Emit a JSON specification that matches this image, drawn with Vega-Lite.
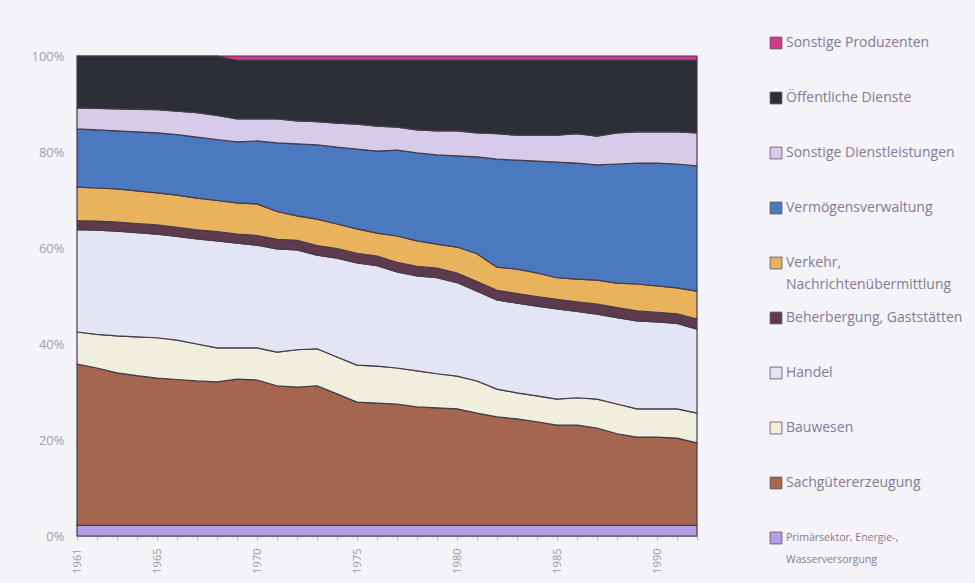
{
  "$schema": "https://vega.github.io/schema/vega-lite/v6.json",
  "width": 620,
  "height": 480,
  "autosize": "none",
  "padding": {"left": 77, "top": 56, "right": 278, "bottom": 47},
  "background": "#f4f3f8",
  "config": {
    "view": {"stroke": null},
    "font": "Open Sans"
  },
  "datasets": {
    "sectors": [
      {"k": "SP", "sector": "Sonstige Produzenten", "rank": 10},
      {"k": "O", "sector": "Öffentliche Dienste", "rank": 9},
      {"k": "D", "sector": "Sonstige Dienstleistungen", "rank": 8},
      {"k": "M", "sector": "Vermögensverwaltung", "rank": 7},
      {"k": "V", "sector": "Verkehr, Nachrichtenübermittlung", "rank": 6},
      {"k": "G", "sector": "Beherbergung, Gaststätten", "rank": 5},
      {"k": "H", "sector": "Handel", "rank": 4},
      {"k": "B", "sector": "Bauwesen", "rank": 3},
      {"k": "S", "sector": "Sachgütererzeugung", "rank": 2},
      {"k": "P", "sector": "Primärsektor, Energie-, Wasserversorgung", "rank": 1}
    ],
    "shares": [
      {"year":1961,"k":"P","share":2.2},{"year":1961,"k":"S","share":33.6},{"year":1961,"k":"B","share":6.7},{"year":1961,"k":"H","share":21.3},{"year":1961,"k":"G","share":1.9},{"year":1961,"k":"V","share":7.0},{"year":1961,"k":"M","share":12.1},{"year":1961,"k":"D","share":4.4},{"year":1961,"k":"O","share":10.8},{"year":1961,"k":"SP","share":0},
      {"year":1962,"k":"P","share":2.2},{"year":1962,"k":"S","share":32.8},{"year":1962,"k":"B","share":7.0},{"year":1962,"k":"H","share":21.7},{"year":1962,"k":"G","share":1.9},{"year":1962,"k":"V","share":6.9},{"year":1962,"k":"M","share":12.1},{"year":1962,"k":"D","share":4.5},{"year":1962,"k":"O","share":10.9},{"year":1962,"k":"SP","share":0},
      {"year":1963,"k":"P","share":2.2},{"year":1963,"k":"S","share":31.8},{"year":1963,"k":"B","share":7.7},{"year":1963,"k":"H","share":21.8},{"year":1963,"k":"G","share":1.9},{"year":1963,"k":"V","share":6.9},{"year":1963,"k":"M","share":12.1},{"year":1963,"k":"D","share":4.6},{"year":1963,"k":"O","share":11.0},{"year":1963,"k":"SP","share":0},
      {"year":1964,"k":"P","share":2.2},{"year":1964,"k":"S","share":31.2},{"year":1964,"k":"B","share":8.1},{"year":1964,"k":"H","share":21.7},{"year":1964,"k":"G","share":1.9},{"year":1964,"k":"V","share":6.8},{"year":1964,"k":"M","share":12.3},{"year":1964,"k":"D","share":4.7},{"year":1964,"k":"O","share":11.1},{"year":1964,"k":"SP","share":0},
      {"year":1965,"k":"P","share":2.2},{"year":1965,"k":"S","share":30.7},{"year":1965,"k":"B","share":8.4},{"year":1965,"k":"H","share":21.6},{"year":1965,"k":"G","share":1.9},{"year":1965,"k":"V","share":6.7},{"year":1965,"k":"M","share":12.5},{"year":1965,"k":"D","share":4.8},{"year":1965,"k":"O","share":11.2},{"year":1965,"k":"SP","share":0},
      {"year":1966,"k":"P","share":2.2},{"year":1966,"k":"S","share":30.4},{"year":1966,"k":"B","share":8.2},{"year":1966,"k":"H","share":21.6},{"year":1966,"k":"G","share":1.9},{"year":1966,"k":"V","share":6.7},{"year":1966,"k":"M","share":12.6},{"year":1966,"k":"D","share":4.9},{"year":1966,"k":"O","share":11.5},{"year":1966,"k":"SP","share":0},
      {"year":1967,"k":"P","share":2.2},{"year":1967,"k":"S","share":30.1},{"year":1967,"k":"B","share":7.7},{"year":1967,"k":"H","share":21.9},{"year":1967,"k":"G","share":1.9},{"year":1967,"k":"V","share":6.6},{"year":1967,"k":"M","share":12.7},{"year":1967,"k":"D","share":5.1},{"year":1967,"k":"O","share":11.8},{"year":1967,"k":"SP","share":0},
      {"year":1968,"k":"P","share":2.2},{"year":1968,"k":"S","share":29.9},{"year":1968,"k":"B","share":7.1},{"year":1968,"k":"H","share":22.3},{"year":1968,"k":"G","share":1.9},{"year":1968,"k":"V","share":6.5},{"year":1968,"k":"M","share":12.7},{"year":1968,"k":"D","share":5.0},{"year":1968,"k":"O","share":12.4},{"year":1968,"k":"SP","share":0},
      {"year":1969,"k":"P","share":2.2},{"year":1969,"k":"S","share":30.5},{"year":1969,"k":"B","share":6.5},{"year":1969,"k":"H","share":21.8},{"year":1969,"k":"G","share":1.9},{"year":1969,"k":"V","share":6.5},{"year":1969,"k":"M","share":12.7},{"year":1969,"k":"D","share":4.8},{"year":1969,"k":"O","share":12.2},{"year":1969,"k":"SP","share":0.9},
      {"year":1970,"k":"P","share":2.2},{"year":1970,"k":"S","share":30.3},{"year":1970,"k":"B","share":6.7},{"year":1970,"k":"H","share":21.4},{"year":1970,"k":"G","share":2.0},{"year":1970,"k":"V","share":6.6},{"year":1970,"k":"M","share":13.1},{"year":1970,"k":"D","share":4.6},{"year":1970,"k":"O","share":12.2},{"year":1970,"k":"SP","share":0.9},
      {"year":1971,"k":"P","share":2.2},{"year":1971,"k":"S","share":29.1},{"year":1971,"k":"B","share":7.0},{"year":1971,"k":"H","share":21.5},{"year":1971,"k":"G","share":2.0},{"year":1971,"k":"V","share":5.8},{"year":1971,"k":"M","share":14.3},{"year":1971,"k":"D","share":5.0},{"year":1971,"k":"O","share":12.2},{"year":1971,"k":"SP","share":0.9},
      {"year":1972,"k":"P","share":2.2},{"year":1972,"k":"S","share":28.8},{"year":1972,"k":"B","share":7.8},{"year":1972,"k":"H","share":20.8},{"year":1972,"k":"G","share":2.0},{"year":1972,"k":"V","share":5.1},{"year":1972,"k":"M","share":15.0},{"year":1972,"k":"D","share":4.8},{"year":1972,"k":"O","share":12.6},{"year":1972,"k":"SP","share":0.9},
      {"year":1973,"k":"P","share":2.2},{"year":1973,"k":"S","share":29.1},{"year":1973,"k":"B","share":7.7},{"year":1973,"k":"H","share":19.5},{"year":1973,"k":"G","share":2.0},{"year":1973,"k":"V","share":5.5},{"year":1973,"k":"M","share":15.5},{"year":1973,"k":"D","share":4.8},{"year":1973,"k":"O","share":12.8},{"year":1973,"k":"SP","share":0.9},
      {"year":1974,"k":"P","share":2.2},{"year":1974,"k":"S","share":27.4},{"year":1974,"k":"B","share":7.7},{"year":1974,"k":"H","share":20.6},{"year":1974,"k":"G","share":2.0},{"year":1974,"k":"V","share":5.1},{"year":1974,"k":"M","share":16.0},{"year":1974,"k":"D","share":5.0},{"year":1974,"k":"O","share":13.1},{"year":1974,"k":"SP","share":0.9},
      {"year":1975,"k":"P","share":2.2},{"year":1975,"k":"S","share":25.7},{"year":1975,"k":"B","share":7.7},{"year":1975,"k":"H","share":21.3},{"year":1975,"k":"G","share":2.0},{"year":1975,"k":"V","share":5.1},{"year":1975,"k":"M","share":16.6},{"year":1975,"k":"D","share":5.2},{"year":1975,"k":"O","share":13.3},{"year":1975,"k":"SP","share":0.9},
      {"year":1976,"k":"P","share":2.2},{"year":1976,"k":"S","share":25.5},{"year":1976,"k":"B","share":7.7},{"year":1976,"k":"H","share":20.9},{"year":1976,"k":"G","share":2.0},{"year":1976,"k":"V","share":4.8},{"year":1976,"k":"M","share":17.1},{"year":1976,"k":"D","share":5.2},{"year":1976,"k":"O","share":13.7},{"year":1976,"k":"SP","share":0.9},
      {"year":1977,"k":"P","share":2.2},{"year":1977,"k":"S","share":25.3},{"year":1977,"k":"B","share":7.5},{"year":1977,"k":"H","share":20.0},{"year":1977,"k":"G","share":2.0},{"year":1977,"k":"V","share":5.5},{"year":1977,"k":"M","share":17.9},{"year":1977,"k":"D","share":4.8},{"year":1977,"k":"O","share":13.9},{"year":1977,"k":"SP","share":0.9},
      {"year":1978,"k":"P","share":2.2},{"year":1978,"k":"S","share":24.7},{"year":1978,"k":"B","share":7.5},{"year":1978,"k":"H","share":19.8},{"year":1978,"k":"G","share":2.0},{"year":1978,"k":"V","share":5.3},{"year":1978,"k":"M","share":18.3},{"year":1978,"k":"D","share":4.8},{"year":1978,"k":"O","share":14.5},{"year":1978,"k":"SP","share":0.9},
      {"year":1979,"k":"P","share":2.2},{"year":1979,"k":"S","share":24.5},{"year":1979,"k":"B","share":7.1},{"year":1979,"k":"H","share":20.0},{"year":1979,"k":"G","share":2.0},{"year":1979,"k":"V","share":5.0},{"year":1979,"k":"M","share":18.6},{"year":1979,"k":"D","share":5.0},{"year":1979,"k":"O","share":14.7},{"year":1979,"k":"SP","share":0.9},
      {"year":1980,"k":"P","share":2.2},{"year":1980,"k":"S","share":24.3},{"year":1980,"k":"B","share":6.8},{"year":1980,"k":"H","share":19.5},{"year":1980,"k":"G","share":2.0},{"year":1980,"k":"V","share":5.4},{"year":1980,"k":"M","share":19.0},{"year":1980,"k":"D","share":5.2},{"year":1980,"k":"O","share":14.7},{"year":1980,"k":"SP","share":0.9},
      {"year":1981,"k":"P","share":2.2},{"year":1981,"k":"S","share":23.4},{"year":1981,"k":"B","share":6.7},{"year":1981,"k":"H","share":18.7},{"year":1981,"k":"G","share":2.0},{"year":1981,"k":"V","share":5.8},{"year":1981,"k":"M","share":20.2},{"year":1981,"k":"D","share":5.0},{"year":1981,"k":"O","share":15.1},{"year":1981,"k":"SP","share":0.9},
      {"year":1982,"k":"P","share":2.2},{"year":1982,"k":"S","share":22.6},{"year":1982,"k":"B","share":5.8},{"year":1982,"k":"H","share":18.6},{"year":1982,"k":"G","share":2.0},{"year":1982,"k":"V","share":4.8},{"year":1982,"k":"M","share":22.5},{"year":1982,"k":"D","share":5.3},{"year":1982,"k":"O","share":15.3},{"year":1982,"k":"SP","share":0.9},
      {"year":1983,"k":"P","share":2.2},{"year":1983,"k":"S","share":22.2},{"year":1983,"k":"B","share":5.4},{"year":1983,"k":"H","share":18.7},{"year":1983,"k":"G","share":2.0},{"year":1983,"k":"V","share":5.1},{"year":1983,"k":"M","share":22.7},{"year":1983,"k":"D","share":5.2},{"year":1983,"k":"O","share":15.6},{"year":1983,"k":"SP","share":0.9},
      {"year":1984,"k":"P","share":2.2},{"year":1984,"k":"S","share":21.6},{"year":1984,"k":"B","share":5.4},{"year":1984,"k":"H","share":18.7},{"year":1984,"k":"G","share":2.0},{"year":1984,"k":"V","share":4.9},{"year":1984,"k":"M","share":23.3},{"year":1984,"k":"D","share":5.4},{"year":1984,"k":"O","share":15.6},{"year":1984,"k":"SP","share":0.9},
      {"year":1985,"k":"P","share":2.2},{"year":1985,"k":"S","share":20.9},{"year":1985,"k":"B","share":5.4},{"year":1985,"k":"H","share":18.8},{"year":1985,"k":"G","share":2.0},{"year":1985,"k":"V","share":4.5},{"year":1985,"k":"M","share":24.1},{"year":1985,"k":"D","share":5.6},{"year":1985,"k":"O","share":15.6},{"year":1985,"k":"SP","share":0.9},
      {"year":1986,"k":"P","share":2.2},{"year":1986,"k":"S","share":20.9},{"year":1986,"k":"B","share":5.7},{"year":1986,"k":"H","share":18.0},{"year":1986,"k":"G","share":2.0},{"year":1986,"k":"V","share":4.7},{"year":1986,"k":"M","share":24.2},{"year":1986,"k":"D","share":6.1},{"year":1986,"k":"O","share":15.3},{"year":1986,"k":"SP","share":0.9},
      {"year":1987,"k":"P","share":2.2},{"year":1987,"k":"S","share":20.3},{"year":1987,"k":"B","share":6.0},{"year":1987,"k":"H","share":17.7},{"year":1987,"k":"G","share":2.1},{"year":1987,"k":"V","share":5.0},{"year":1987,"k":"M","share":24.0},{"year":1987,"k":"D","share":6.0},{"year":1987,"k":"O","share":15.8},{"year":1987,"k":"SP","share":0.9},
      {"year":1988,"k":"P","share":2.2},{"year":1988,"k":"S","share":19.1},{"year":1988,"k":"B","share":6.2},{"year":1988,"k":"H","share":18.0},{"year":1988,"k":"G","share":2.1},{"year":1988,"k":"V","share":5.1},{"year":1988,"k":"M","share":24.8},{"year":1988,"k":"D","share":6.5},{"year":1988,"k":"O","share":15.1},{"year":1988,"k":"SP","share":0.9},
      {"year":1989,"k":"P","share":2.2},{"year":1989,"k":"S","share":18.4},{"year":1989,"k":"B","share":5.9},{"year":1989,"k":"H","share":18.3},{"year":1989,"k":"G","share":2.1},{"year":1989,"k":"V","share":5.6},{"year":1989,"k":"M","share":25.2},{"year":1989,"k":"D","share":6.5},{"year":1989,"k":"O","share":14.9},{"year":1989,"k":"SP","share":0.9},
      {"year":1990,"k":"P","share":2.2},{"year":1990,"k":"S","share":18.4},{"year":1990,"k":"B","share":5.9},{"year":1990,"k":"H","share":18.1},{"year":1990,"k":"G","share":2.0},{"year":1990,"k":"V","share":5.5},{"year":1990,"k":"M","share":25.6},{"year":1990,"k":"D","share":6.5},{"year":1990,"k":"O","share":14.9},{"year":1990,"k":"SP","share":0.9},
      {"year":1991,"k":"P","share":2.2},{"year":1991,"k":"S","share":18.2},{"year":1991,"k":"B","share":6.1},{"year":1991,"k":"H","share":17.8},{"year":1991,"k":"G","share":2.0},{"year":1991,"k":"V","share":5.4},{"year":1991,"k":"M","share":25.8},{"year":1991,"k":"D","share":6.7},{"year":1991,"k":"O","share":14.9},{"year":1991,"k":"SP","share":0.9},
      {"year":1992,"k":"P","share":2.2},{"year":1992,"k":"S","share":17.2},{"year":1992,"k":"B","share":6.2},{"year":1992,"k":"H","share":17.5},{"year":1992,"k":"G","share":2.1},{"year":1992,"k":"V","share":5.8},{"year":1992,"k":"M","share":26.1},{"year":1992,"k":"D","share":6.9},{"year":1992,"k":"O","share":15.1},{"year":1992,"k":"SP","share":0.9}
    ]
  },
  "data": {"name": "shares"},
  "transform": [
    {"lookup": "k", "from": {"data": {"name": "sectors"}, "key": "k", "fields": ["sector", "rank"]}}
  ],
  "mark": {"type": "area", "stroke": "#463a4e", "strokeWidth": 1.2, "strokeJoin": "round", "opacity": 1},
  "encoding": {
    "x": {
      "field": "year", "type": "quantitative",
      "scale": {"domain": [1961, 1992], "nice": false, "zero": false},
      "axis": {
        "title": null,
        "values": [1961,1962,1963,1964,1965,1966,1967,1968,1969,1970,1971,1972,1973,1974,1975,1976,1977,1978,1979,1980,1981,1982,1983,1984,1985,1986,1987,1988,1989,1990,1991,1992],
        "labelExpr": "indexof([1961,1965,1970,1975,1980,1985,1990], datum.value) >= 0 ? datum.label : ''",
        "format": "d",
        "labelAngle": 270,
        "labelFontSize": 11,
        "labelColor": "#9a98a2",
        "labelPadding": 8,
        "labelFlush": false,
        "labelOverlap": false,
        "tickSize": 4,
        "tickColor": "#b8b5c8",
        "domainColor": "#9c97b8",
        "grid": false
      }
    },
    "y": {
      "field": "share", "type": "quantitative", "stack": "normalize",
      "scale": {"domain": [0, 1]},
      "axis": {
        "title": null,
        "values": [0, 0.2, 0.4, 0.6, 0.8, 1],
        "format": ".0%",
        "labelFontSize": 13,
        "labelColor": "#a09ea8",
        "ticks": false,
        "labelPadding": 13,
        "domainColor": "#9c97b8",
        "grid": false
      }
    },
    "color": {
      "field": "sector", "type": "nominal",
      "scale": {
        "domain": ["Sonstige Produzenten", "Öffentliche Dienste", "Sonstige Dienstleistungen", "Vermögensverwaltung", "Verkehr, Nachrichtenübermittlung", "Beherbergung, Gaststätten", "Handel", "Bauwesen", "Sachgütererzeugung", "Primärsektor, Energie-, Wasserversorgung"],
        "range": ["#d2398a", "#2c2f36", "#d6cce9", "#4b79bf", "#e9b25c", "#5e3a4c", "#e3e5f4", "#f0efdd", "#a5664f", "#b49ee6"]
      },
      "legend": {
        "title": null,
        "orient": "none",
        "legendX": 692,
        "legendY": -20,
        "gridAlign": "all",
        "symbolType": "square",
        "symbolSize": 140,
        "symbolStrokeColor": "#5a5060",
        "symbolStrokeWidth": 0.8,
        "symbolOpacity": 1,
        "labelFontSize": 14,
        "labelColor": "#857a95",
        "labelLimit": 300,
        "labelOffset": 3,
        "rowPadding": 18,
        "labelExpr": "datum.label == 'Verkehr, Nachrichtenübermittlung' ? ['Verkehr,', 'Nachrichtenübermittlung'] : datum.label == 'Primärsektor, Energie-, Wasserversorgung' ? ['Primärsektor, Energie-,', 'Wasserversorgung'] : datum.label",
        "encode": {
          "labels": {
            "update": {
              "fontSize": {"signal": "datum.value == 'Primärsektor, Energie-, Wasserversorgung' ? 10.5 : 14"},
              "lineHeight": {"value": 22}
            }
          }
        }
      }
    },
    "order": {"field": "rank", "type": "quantitative", "sort": "ascending"}
  }
}
